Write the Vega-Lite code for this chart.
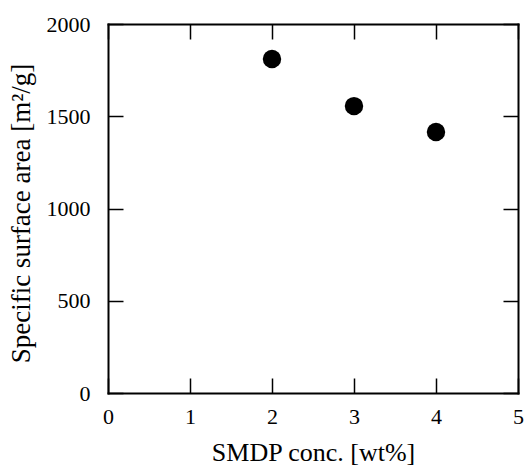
{
  "$schema": "https://vega.github.io/schema/vega-lite/v6.json",
  "autosize": "none",
  "width": 410,
  "height": 369,
  "padding": {"left": 108, "top": 24, "right": 7, "bottom": 73},
  "background": "white",
  "data": {"values": [
    {"conc": 2, "area": 1810},
    {"conc": 3, "area": 1555},
    {"conc": 4, "area": 1415}
  ]},
  "config": {
    "view": {"stroke": null},
    "axis": {
      "grid": false,
      "domainColor": "black",
      "domainWidth": 2,
      "domainCap": "square",
      "tickColor": "black",
      "tickWidth": 1.5,
      "tickSize": -15,
      "labelFlush": false,
      "labelFont": "Liberation Serif",
      "labelFontSize": 22,
      "labelColor": "black",
      "titleFont": "Liberation Serif",
      "titleFontSize": 26,
      "titleFontWeight": "normal",
      "titleColor": "black"
    }
  },
  "resolve": {"axis": {"x": "independent", "y": "independent"}},
  "layer": [
    {
      "mark": {"type": "point", "filled": true, "color": "black", "opacity": 1, "size": 340},
      "encoding": {
        "x": {"field": "conc", "type": "quantitative", "scale": {"domain": [0, 5]},
              "axis": {"orient": "bottom", "values": [0,1,2,3,4,5], "format": "d", "title": "SMDP conc. [wt%]", "labelPadding": 28, "titlePadding": 12}},
        "y": {"field": "area", "type": "quantitative", "scale": {"domain": [0, 2000]},
              "axis": {"orient": "left", "values": [0,500,1000,1500,2000], "format": "d", "title": "Specific surface area [m²/g]", "labelPadding": 33, "titlePadding": 11, "titleFontSize": 27, "titleY": 189}}
      }
    },
    {
      "mark": {"type": "point", "filled": true, "opacity": 0},
      "encoding": {
        "x": {"field": "conc", "type": "quantitative", "scale": {"domain": [0, 5]},
              "axis": {"orient": "top", "values": [0,1,2,3,4,5], "labels": false, "title": null}},
        "y": {"field": "area", "type": "quantitative", "scale": {"domain": [0, 2000]},
              "axis": {"orient": "right", "values": [0,500,1000,1500,2000], "labels": false, "title": null}}
      }
    }
  ]
}
